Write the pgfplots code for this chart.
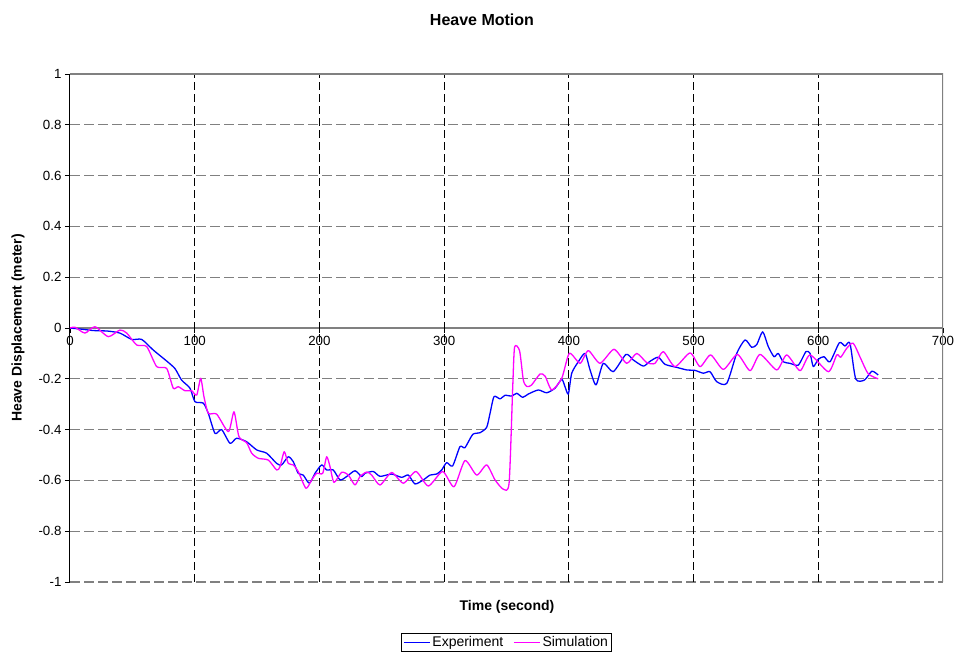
\documentclass[border=0pt]{standalone}
\usepackage{pgfplots}
\pgfplotsset{compat=1.18}
\usepackage{fontspec}
\setmainfont{Liberation Sans}
\definecolor{expblue}{RGB}{0,0,255}
\definecolor{simmag}{RGB}{255,0,255}
\definecolor{framegray}{RGB}{128,128,128}
\begin{document}
\begin{tikzpicture}
\useasboundingbox (-70pt,-72pt) rectangle (887pt,582pt);
\begin{axis}[
  at={(0pt,0pt)}, anchor=south west,
  scale only axis, width=873pt, height=508pt,
  xmin=0, xmax=700, ymin=-1, ymax=1,
  axis x line*=middle, axis y line*=left,
  hide obscured x ticks=false,
  hide obscured y ticks=false,
  x axis line style={-, framegray, line width=1.3pt},
  y axis line style={-, black, line width=1pt},
  xtick={0,100,200,300,400,500,600,700},
  xticklabels={0,100,200,300,400,500,600,700},
  ytick={-1,-0.8,-0.6,-0.4,-0.2,0,0.2,0.4,0.6,0.8,1},
  yticklabels={-1,-0.8,-0.6,-0.4,-0.2,0,0.2,0.4,0.6,0.8,1},
  tick align=outside,
  major tick length=5pt,
  tick style={black, line width=0.8pt},
  ticklabel style={font=\fontsize{13.3}{15}\selectfont},
  ymajorgrids,
  extra x ticks={100,200,300,400,500,600},
  extra x tick labels={},
  extra x tick style={grid=major, major tick length=0pt},
  x grid style={black, line width=0.9pt, dash pattern=on 8pt off 4pt},
  y grid style={framegray, line width=1.3pt, dash pattern=on 10pt off 4pt},
  legend style={at={(0.5,0)}, anchor=north, yshift=-51pt, legend columns=2,
    draw=black, line width=0.8pt, font=\fontsize{14}{16}\selectfont,
    inner xsep=2pt, inner ysep=1pt,
    /tikz/every even column/.append style={column sep=8pt}},
  legend image code/.code={\draw[#1] (0pt,0pt) -- (26pt,0pt);},
]
\addplot[expblue, line width=1.3pt, line join=round, smooth, tension=0.4] coordinates {
(0,0) (10,-0.005) (18.7,-0.01) (30,-0.012) (40,-0.02) (49.5,-0.045) (57.5,-0.045)
(66.8,-0.087) (77.5,-0.13) (84.2,-0.16) (89.5,-0.205) (96.2,-0.237) (100.2,-0.29)
(106.9,-0.296) (110.9,-0.336) (116.3,-0.415) (121.6,-0.40) (128.3,-0.454) (133.6,-0.434)
(141.7,-0.448) (149.7,-0.48) (157.7,-0.493) (165.7,-0.533) (169.7,-0.539) (175,-0.507)
(179,-0.526) (183,-0.572) (187,-0.579) (191.9,-0.611) (196.5,-0.572) (201.8,-0.539)
(205.8,-0.559) (211.1,-0.559) (216.5,-0.598) (221.8,-0.585) (228.5,-0.562) (233.9,-0.585)
(236.5,-0.572) (243.2,-0.565) (248.6,-0.584) (257.9,-0.575) (265.9,-0.588) (271.3,-0.579)
(276.6,-0.614) (283.3,-0.598) (288.7,-0.579) (294,-0.575) (298,-0.559) (302,-0.53)
(306.8,-0.543) (312.7,-0.467) (316.7,-0.471) (322.9,-0.419) (328.8,-0.412) (334.1,-0.391)
(336.8,-0.336) (340,-0.27) (344.8,-0.279) (348.8,-0.265) (354.2,-0.268) (358.2,-0.257)
(363,-0.273) (367.5,-0.26) (375.5,-0.244) (382.2,-0.255) (388.9,-0.237) (394.3,-0.202)
(396.9,-0.231) (399.6,-0.26) (402.3,-0.178) (407.6,-0.133) (413,-0.1) (417,-0.165)
(421.8,-0.224) (427.6,-0.139) (435.6,-0.172) (445.8,-0.104) (451.7,-0.126) (459.7,-0.15)
(465.1,-0.131) (471.7,-0.115) (477.1,-0.143) (486.5,-0.155) (494.5,-0.165) (501.2,-0.167)
(507.8,-0.178) (513.2,-0.172) (518.5,-0.211) (526.6,-0.218) (534.6,-0.1) (541.3,-0.047)
(546.6,-0.076) (550.7,-0.065) (555.4,-0.015) (559.9,-0.073) (564.5,-0.113) (567.9,-0.1)
(571.9,-0.133) (577.3,-0.139) (584,-0.146) (590.1,-0.093) (593.4,-0.1) (596,-0.152)
(600,-0.123) (604.6,-0.113) (609.4,-0.133) (616.9,-0.058) (621.4,-0.071) (625.4,-0.06)
(630,-0.2) (637,-0.205) (643,-0.17) (648,-0.185)
};
\addlegendentry{Experiment}
\addplot[simmag, line width=1.3pt, line join=round, smooth, tension=0.4] coordinates {
(0,0) (4,0.003) (12,-0.02) (20,0.005) (30.7,-0.034) (40,-0.008) (45.5,-0.02)
(53.5,-0.067) (61.5,-0.073) (69.5,-0.152) (77.5,-0.159) (82.8,-0.237) (86.8,-0.231)
(92.2,-0.247) (97.5,-0.247) (101.6,-0.264) (104.8,-0.198) (107.4,-0.27) (110.9,-0.336)
(117.6,-0.339) (127,-0.408) (131.5,-0.33) (135.5,-0.428) (141.7,-0.452) (145.7,-0.493)
(151,-0.513) (159,-0.52) (165.7,-0.559) (168.4,-0.546) (171.8,-0.487) (175,-0.533)
(179,-0.539) (183,-0.565) (189.2,-0.631) (193.8,-0.598) (197.8,-0.572) (202.6,-0.572)
(205.8,-0.507) (208.5,-0.546) (211.7,-0.608) (217.8,-0.568) (223.2,-0.579) (228.5,-0.618)
(232.5,-0.585) (237.9,-0.567) (241.9,-0.579) (248.6,-0.618) (257.9,-0.569) (267.3,-0.611)
(277.4,-0.565) (287.3,-0.622) (298.8,-0.565) (307.9,-0.625) (316.7,-0.522) (326.1,-0.579)
(334.1,-0.539) (340.8,-0.598) (347.5,-0.635) (352.1,-0.609) (355,-0.231) (356.5,-0.075)
(360.5,-0.09) (363.5,-0.205) (366.2,-0.23) (370,-0.225) (376.9,-0.181) (381,-0.19)
(386.3,-0.244) (394.3,-0.198) (400.4,-0.1) (409,-0.139) (415.6,-0.089) (425,-0.139)
(436.2,-0.084) (446.4,-0.139) (454.4,-0.1) (462.4,-0.136) (469.1,-0.139) (475.7,-0.093)
(485.1,-0.152) (497.2,-0.098) (505.2,-0.152) (513.7,-0.106) (523.9,-0.163) (535.1,-0.104)
(545.3,-0.168) (553.3,-0.104) (566.7,-0.165) (574.7,-0.106) (585.4,-0.168) (593.4,-0.106)
(608.1,-0.172) (614.8,-0.106) (618,-0.115) (622.8,-0.08) (628,-0.06) (634,-0.12)
(640,-0.18) (648,-0.2)
};
\addlegendentry{Simulation}
\draw[framegray, line width=1.3pt] (rel axis cs:0,1) -- (rel axis cs:1,1) -- (rel axis cs:1,0);
\end{axis}
\node[font=\bfseries\fontsize{16}{18}\selectfont] at (412pt,562pt) {Heave Motion};
\node[font=\bfseries\fontsize{14}{16}\selectfont] at (437pt,-25pt) {Time (second)};
\node[rotate=90, font=\bfseries\fontsize{14}{16}\selectfont] at (-52pt,254pt) {Heave Displacement (meter)};
\end{tikzpicture}
\end{document}
